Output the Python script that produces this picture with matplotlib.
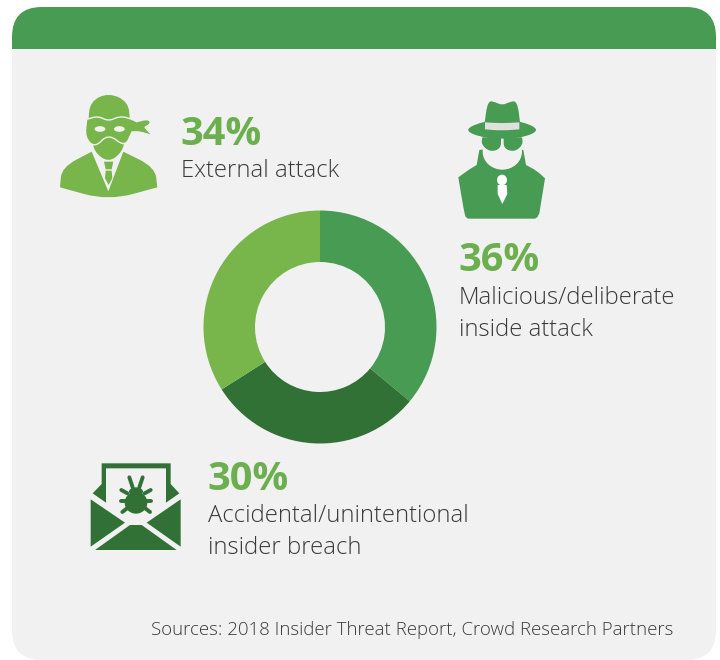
import matplotlib
matplotlib.use("Agg")
import matplotlib.pyplot as plt
from matplotlib.path import Path
from matplotlib.patches import PathPatch, FancyBboxPatch, Rectangle, Ellipse

W, H = 720, 660

values = [36, 30, 34]
wedge_colors = ["#479B53", "#317135", "#78B54A"]
labels = ["Malicious/deliberate\ninside attack",
          "Accidental/unintentional\ninsider breach",
          "External attack"]
source = "Sources: 2018 Insider Threat Report, Crowd Research Partners"

BG = "#F1F1F1"
PCT = "#6CAF4E"
INK = "#3A3A3A"
plt.rcParams["font.family"] = ["Open Sans", "DejaVu Sans"]


def smooth(ax, pts, ox, oy, color, scale=3.0, zorder=3, edge="none", lw=0):
    # closed quadratic spline through midpoints, repeat a point for a sharp corner
    pts = [(ox + x / scale, oy + y / scale) for x, y in pts]
    n = len(pts)
    mid = lambda a, b: ((a[0] + b[0]) / 2, (a[1] + b[1]) / 2)
    verts = [mid(pts[-1], pts[0])]
    codes = [Path.MOVETO]
    for i in range(n):
        verts += [pts[i], mid(pts[i], pts[(i + 1) % n])]
        codes += [Path.CURVE3, Path.CURVE3]
    ax.add_patch(PathPatch(Path(verts, codes), fc=color, ec=edge, lw=lw, zorder=zorder))


def poly(ax, pts, ox, oy, color, scale=3.0, zorder=3):
    pts = [(ox + x / scale, oy + y / scale) for x, y in pts]
    ax.add_patch(plt.Polygon(pts, closed=True, fc=color, ec="none", zorder=zorder))


def oval(ax, cx, cy, w, h, ox, oy, color, scale=3.0, zorder=4):
    ax.add_patch(Ellipse((ox + cx / scale, oy + cy / scale), w / scale, h / scale,
                         fc=color, ec="none", zorder=zorder))


def ninja(ax, ox, oy, c):
    # dome
    smooth(ax, [(145, 125), (145, 125), (150, 65), (205, 38), (265, 65), (270, 125), (270, 125)],
           ox, oy, c)
    # jaw
    smooth(ax, [(156, 170), (156, 170), (255, 170), (255, 170), (248, 215), (205, 248), (162, 215)],
           ox, oy, c)
    # mask with knot and tails, outlined so it stands off the head
    smooth(ax, [(140, 118), (140, 118), (175, 108), (205, 124), (240, 108), (272, 116), (290, 125),
                (290, 125), (325, 116), (334, 130), (315, 142), (315, 142), (338, 168), (338, 168),
                (300, 155), (276, 156), (276, 156), (255, 202), (205, 160), (165, 204), (134, 172)],
           ox, oy, c, zorder=4, edge=BG, lw=1.0)
    oval(ax, 180, 147, 32, 17, ox, oy, BG, zorder=5)
    oval(ax, 238, 147, 32, 17, ox, oy, BG, zorder=5)
    # shoulders
    smooth(ax, [(60, 322), (60, 322), (65, 262), (155, 215), (155, 215), (205, 334), (205, 334),
                (250, 215), (250, 215), (345, 262), (352, 322), (352, 322), (205, 362)], ox, oy, c)
    # tie
    poly(ax, [(192, 245), (220, 245), (215, 268), (197, 268)], ox, oy, c)
    poly(ax, [(197, 272), (215, 272), (217, 295), (206, 315), (195, 295)], ox, oy, c)


def spy(ax, ox, oy, c):
    # collar and body
    smooth(ax, [(55, 262), (55, 262), (85, 240), (110, 225), (110, 225), (118, 180), (118, 180),
                (187, 170), (250, 180), (250, 180), (258, 225), (258, 225), (290, 242), (315, 265),
                (315, 265), (298, 370), (298, 370), (290, 386), (275, 386), (275, 386), (95, 386),
                (95, 386), (78, 386), (72, 365)], ox, oy, c)
    # face opening
    oval(ax, 187, 185, 118, 108, ox, oy, BG, zorder=4)
    # crown and brim
    smooth(ax, [(133, 105), (133, 105), (143, 32), (165, 36), (187, 46), (208, 36), (232, 32),
                (241, 105), (241, 105)], ox, oy, c, zorder=5)
    smooth(ax, [(68, 120), (135, 92), (187, 92), (240, 92), (304, 120), (240, 146), (135, 146)],
           ox, oy, c, zorder=5)
    smooth(ax, [(135, 97), (135, 97), (185, 100), (238, 97), (238, 97), (238, 118), (238, 118),
                (185, 122), (135, 118), (135, 118)], ox, oy, "#DFE1DF", zorder=6)
    # glasses
    smooth(ax, [(127, 142), (127, 142), (183, 142), (183, 142), (183, 176), (150, 186), (124, 164)],
           ox, oy, c, zorder=5)
    smooth(ax, [(191, 142), (191, 142), (246, 142), (246, 142), (249, 164), (224, 186), (191, 176)],
           ox, oy, c, zorder=5)
    # tie
    oval(ax, 186, 270, 30, 32, ox, oy, "white", zorder=5)
    poly(ax, [(173, 285), (200, 285), (202, 312), (187, 342), (173, 312)], ox, oy, "white", zorder=5)


def envelope(ax, ox, oy, c):
    poly(ax, [(65, 40), (272, 40), (272, 102), (298, 130), (258, 158), (258, 55), (78, 55), (78, 158),
              (38, 130), (65, 102)], ox, oy, c)
    poly(ax, [(32, 148), (135, 218), (32, 290)], ox, oy, c)
    poly(ax, [(302, 148), (200, 218), (302, 290)], ox, oy, c)
    poly(ax, [(45, 300), (150, 225), (185, 225), (290, 300)], ox, oy, c)
    # bug
    oval(ax, 168, 158, 68, 66, ox, oy, c)
    oval(ax, 168, 125, 42, 26, ox, oy, c)
    for seg in [((158, 112), (148, 82)), ((178, 112), (188, 82)),
                ((142, 130), (124, 120)), ((194, 130), (212, 120)),
                ((138, 153), (124, 153)), ((198, 153), (214, 153)),
                ((145, 172), (127, 186)), ((192, 172), (210, 186))]:
        ax.plot([ox + seg[0][0] / 3, ox + seg[1][0] / 3], [oy + seg[0][1] / 3, oy + seg[1][1] / 3],
                color=c, lw=2.8, solid_capstyle="round", zorder=4)


fig = plt.figure(figsize=(W / 100, H / 100), dpi=100, facecolor="white")
ax = fig.add_axes([0, 0, 1, 1])
ax.set_xlim(0, W)
ax.set_ylim(H, 0)
ax.axis("off")

# panel and header strip
panel = FancyBboxPatch((42, 37), 644, 593, boxstyle="round,pad=30,rounding_size=30",
                       fc=BG, ec="none", zorder=1)
ax.add_patch(panel)
head = Rectangle((12, 7), 704, 42, fc="#479B53", ec="none", zorder=2)
ax.add_patch(head)
head.set_clip_path(panel)

# donut
cx, cy, r = 320, 327, 116.5
dax = fig.add_axes([(cx - r) / W, 1 - (cy + r) / H, 2 * r / W, 2 * r / H])
dax.pie(values, colors=wedge_colors, startangle=90, counterclock=False, radius=1,
        wedgeprops={"width": 1 - 65 / r, "linewidth": 0})
dax.set_xlim(-1, 1)
dax.set_ylim(-1, 1)
dax.patch.set_alpha(0)

ninja(ax, 40, 80, "#78B54A")
spy(ax, 440, 90, "#479B53")
envelope(ax, 80, 450, "#317135")

# value and caption per segment
blocks = [(458, 271, 0), (207, 490, 1), (180, 145, 2)]
caption_x = [459, 208, 181]
caption_y = [304, 522, 177]
for (x, y, i), tx, ty in zip(blocks, caption_x, caption_y):
    ax.text(x, y, f"{values[i]}%", color=PCT, fontsize=28.6, fontweight="bold",
            ha="left", va="baseline", zorder=5)
    for k, line in enumerate(labels[i].split("\n")):
        ax.text(tx, ty + k * 32, line, color=INK, fontsize=17.2, fontweight="light",
                ha="left", va="baseline", zorder=5)

ax.text(673, 635, source, color=INK, fontsize=13.45, fontweight="light",
        ha="right", va="baseline", zorder=5)

fig.savefig("out.png", dpi=100, facecolor="white")
